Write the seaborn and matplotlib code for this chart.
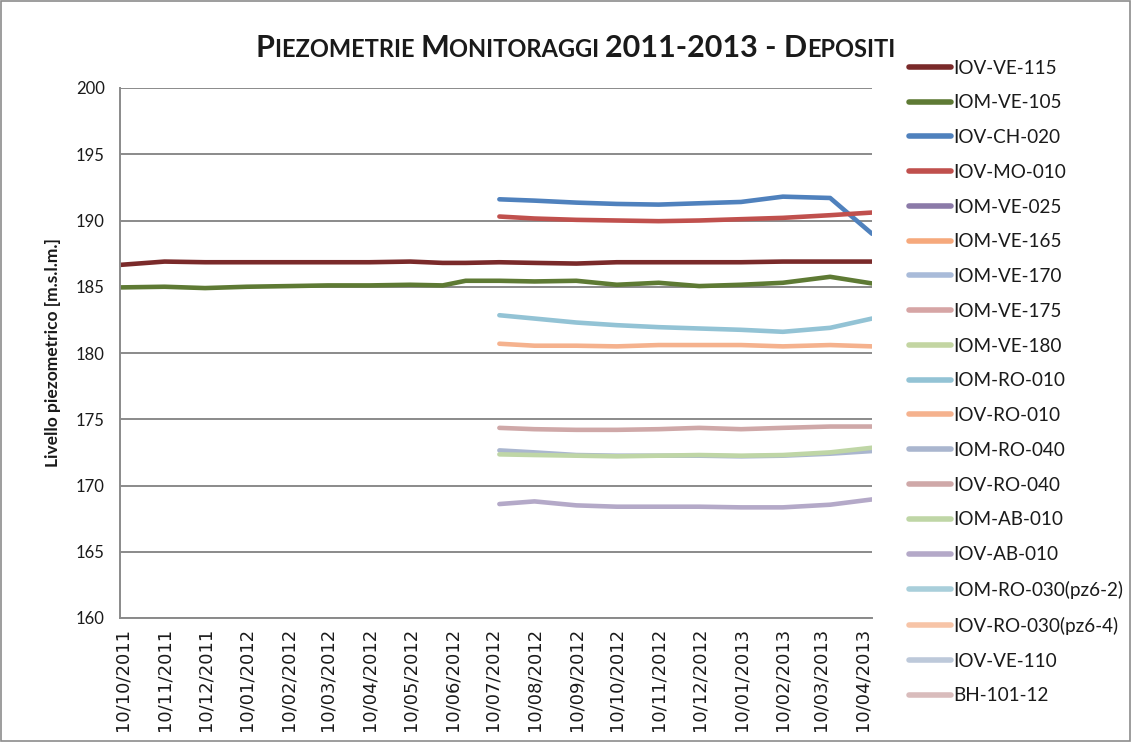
import matplotlib
matplotlib.use("Agg")
import matplotlib.pyplot as plt
import matplotlib.dates as mdates
from matplotlib.lines import Line2D
from matplotlib.patches import Rectangle
import seaborn as sns
import pandas as pd

# ---------------- data ----------------
series_names = [
    "IOV-VE-115", "IOM-VE-105", "IOV-CH-020", "IOV-MO-010", "IOM-VE-025",
    "IOM-VE-165", "IOM-VE-170", "IOM-VE-175", "IOM-VE-180", "IOM-RO-010",
    "IOV-RO-010", "IOM-RO-040", "IOV-RO-040", "IOM-AB-010", "IOV-AB-010",
    "IOM-RO-030(pz6-2)", "IOV-RO-030(pz6-4)", "IOV-VE-110", "BH-101-12",
]
series_colors = [
    "#7a2a2a", "#5e7a34", "#4f81bd", "#c0504d", "#8b7aa8",
    "#f6a97c", "#a9bbd9", "#d6a5a5", "#c3d5a2", "#93c3d5",
    "#f5b28e", "#aab6cf", "#cfa8a8", "#bfd6a6", "#b4a9c8",
    "#a9cfdb", "#f7c4a7", "#bdc9da", "#d9bcbc",
]

long_dates = [
    "2011-10-08", "2011-11-10", "2011-12-10", "2012-01-10", "2012-02-10",
    "2012-03-10", "2012-04-10", "2012-05-10", "2012-06-03", "2012-06-20",
    "2012-07-15", "2012-08-10", "2012-09-10", "2012-10-10", "2012-11-10",
    "2012-12-10", "2013-01-10", "2013-02-10", "2013-03-17", "2013-04-17",
]
late_dates = [
    "2012-07-15", "2012-08-10", "2012-09-10", "2012-10-10", "2012-11-10",
    "2012-12-10", "2013-01-10", "2013-02-10", "2013-03-17", "2013-04-17",
]

iov_ve_115 = [186.65, 186.9, 186.85, 186.85, 186.85, 186.85, 186.85, 186.9, 186.8, 186.8,
              186.85, 186.8, 186.75, 186.85, 186.85, 186.85, 186.85, 186.9, 186.9, 186.9]
iom_ve_105 = [184.95, 185.0, 184.9, 185.0, 185.05, 185.1, 185.1, 185.15, 185.1, 185.45,
              185.45, 185.4, 185.45, 185.15, 185.3, 185.05, 185.15, 185.3, 185.75, 185.25]
iov_ch_020 = [191.6, 191.5, 191.35, 191.25, 191.2, 191.3, 191.4, 191.8, 191.7, 189.0]
iov_mo_010 = [190.3, 190.15, 190.05, 190.0, 189.95, 190.0, 190.1, 190.2, 190.4, 190.6]
iom_ro_010 = [182.85, 182.6, 182.3, 182.1, 181.95, 181.85, 181.75, 181.6, 181.9, 182.6]
iov_ro_010 = [180.7, 180.55, 180.55, 180.5, 180.6, 180.6, 180.6, 180.5, 180.6, 180.5]
iom_ro_040 = [172.65, 172.5, 172.3, 172.25, 172.25, 172.25, 172.2, 172.25, 172.4, 172.6]
iov_ro_040 = [174.35, 174.25, 174.2, 174.2, 174.25, 174.35, 174.25, 174.35, 174.45, 174.45]
iom_ab_010 = [172.35, 172.3, 172.25, 172.2, 172.25, 172.3, 172.25, 172.3, 172.5, 172.85]
iov_ab_010 = [168.6, 168.8, 168.5, 168.4, 168.4, 168.4, 168.35, 168.35, 168.55, 168.95]

plotted = {
    "IOV-VE-115": (long_dates, iov_ve_115),
    "IOM-VE-105": (long_dates, iom_ve_105),
    "IOV-CH-020": (late_dates, iov_ch_020),
    "IOV-MO-010": (late_dates, iov_mo_010),
    "IOM-RO-010": (late_dates, iom_ro_010),
    "IOV-RO-010": (late_dates, iov_ro_010),
    "IOM-RO-040": (late_dates, iom_ro_040),
    "IOV-RO-040": (late_dates, iov_ro_040),
    "IOM-AB-010": (late_dates, iom_ab_010),
    "IOV-AB-010": (late_dates, iov_ab_010),
}

y_ticks = [160, 165, 170, 175, 180, 185, 190, 195, 200]
tick_dates = pd.date_range("2011-10-10", periods=19, freq=pd.DateOffset(months=1))

rows = []
for name, (d, v) in plotted.items():
    for di, vi in zip(d, v):
        rows.append({"data": pd.Timestamp(di), "livello": vi, "serie": name})
df = pd.DataFrame(rows)
palette = dict(zip(series_names, series_colors))

# ---------------- figure ----------------
sns.set_theme(style="white")
plt.rcParams["font.family"] = ["Lato", "DejaVu Sans"]

fig = plt.figure(figsize=(11.32, 7.42), dpi=100)
ax = fig.add_axes([120 / 1132, 1 - 618 / 742, (872 - 120) / 1132, (618 - 88) / 742])

hue_order = [n for n in series_names if n in plotted]
sns.lineplot(data=df, x="data", y="livello", hue="serie", hue_order=hue_order,
             palette=palette, linewidth=3.3, ax=ax, legend=False,
             estimator=None, sort=True)
for ln in ax.get_lines():
    ln.set_solid_capstyle("round")
    ln.set_solid_joinstyle("round")

ax.set_ylim(160, 200)
ax.set_yticks(y_ticks)
ax.set_xlim(pd.Timestamp("2011-10-08"), pd.Timestamp("2013-04-17"))
ax.set_xticks(tick_dates)
ax.xaxis.set_major_formatter(mdates.DateFormatter("%d/%m/%Y"))
ax.tick_params(axis="x", length=0, pad=7, labelsize=13, labelcolor="#1a1a1a")
ax.tick_params(axis="y", length=0, pad=11, labelsize=12, labelcolor="#1a1a1a")
for lab in ax.get_xticklabels():
    lab.set_rotation(90)
    lab.set_family("DejaVu Sans")

ax.grid(axis="y", color="#8a8a8a", linewidth=1.4)
ax.grid(axis="x", visible=False)
for s in ["top", "right"]:
    ax.spines[s].set_visible(False)
for s in ["left", "bottom"]:
    ax.spines[s].set_color("#8a8a8a")
    ax.spines[s].set_linewidth(1.4)
ax.set_axisbelow(True)

ax.set_xlabel("")
ax.set_ylabel("Livello piezometrico [m.s.l.m.]", fontsize=12.5, fontweight="bold",
              color="#1a1a1a", labelpad=11)

# legend with every series
handles = [Line2D([0], [0], color=c, linewidth=4, solid_capstyle="round")
           for c in series_colors]
leg = fig.legend(handles, series_names, loc="upper left",
                 bbox_to_anchor=(901 / 1132, 1 - 52 / 742),
                 frameon=False, fontsize=13.6, handlelength=2.25, handletextpad=0.12,
                 labelspacing=0.94, borderaxespad=0)
for t in leg.get_texts():
    t.set_color("#1a1a1a")

# small-caps style title
fig.canvas.draw()
renderer = fig.canvas.get_renderer()
parts = [("P", 22), ("IEZOMETRIE ", 17), ("M", 22), ("ONITORAGGI ", 17),
         ("2011-2013 - D", 22), ("EPOSITI", 17)]
x_px = 256
base_y = 1 - 57 / 742
for txt, size in parts:
    t = fig.text(x_px / 1132, base_y, txt, fontsize=size, fontweight="bold",
                 va="baseline", ha="left", color="#1a1a1a")
    bb = t.get_window_extent(renderer)
    x_px = bb.x1

fig.add_artist(Rectangle((0.0005, 0.0008), 0.998, 0.998, transform=fig.transFigure,
                         fill=False, edgecolor="#8c8c8c", linewidth=1.2))

fig.savefig("out.png", dpi=100)
